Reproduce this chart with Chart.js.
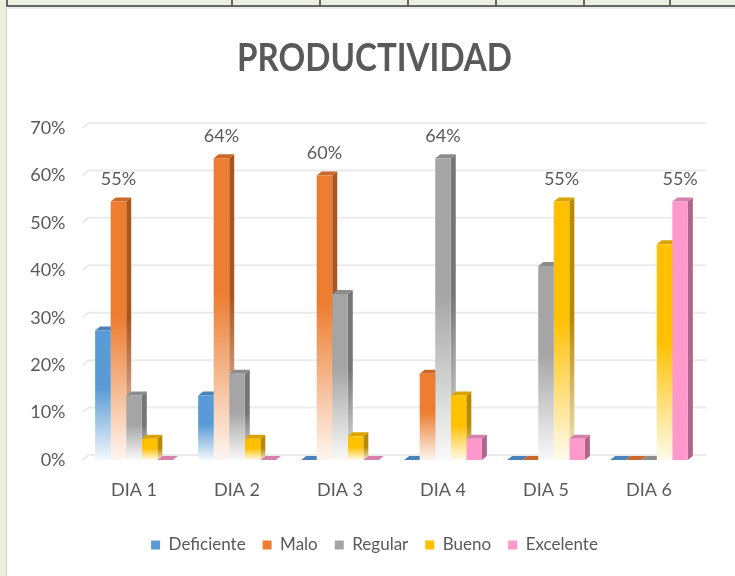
<!DOCTYPE html>
<html><head><meta charset="utf-8">
<script src="https://cdn.jsdelivr.net/npm/chart.js@4.4.1/dist/chart.umd.min.js"></script>
<style>
html,body{margin:0;padding:0;background:#fff;}
#wrap{position:relative;width:735px;height:576px;overflow:hidden;background:#fff;}
.g{position:absolute;background:#EBF1DE;}
.l{position:absolute;}
canvas{position:absolute;left:0;top:0;}
</style></head><body>
<div id="wrap">
<div class="g" style="left:0;top:0;width:735px;height:6px"></div>
<div class="g" style="left:0;top:0;width:6px;height:576px"></div>
<div class="l" style="left:6px;top:8px;width:1px;height:568px;background:#d4d4d4"></div>
<div class="l" style="left:6px;top:5px;width:729px;height:2px;background:#666"></div>
<div class="l" style="left:6px;top:0;width:2px;height:7px;background:#666"></div>
<div class="l" style="left:8px;top:7px;width:727px;height:2px;background:#e9e9e9"></div>
<div class="l" style="left:231px;top:0;width:2px;height:6px;background:#666"></div>
<div class="l" style="left:319px;top:0;width:2px;height:6px;background:#666"></div>
<div class="l" style="left:407px;top:0;width:2px;height:6px;background:#666"></div>
<div class="l" style="left:495px;top:0;width:2px;height:6px;background:#666"></div>
<div class="l" style="left:583px;top:0;width:2px;height:6px;background:#666"></div>
<div class="l" style="left:669px;top:0;width:2px;height:6px;background:#666"></div>
<canvas id="c" width="735" height="576"></canvas>
</div>
<script>
// ---- data ----
const categories = ['DIA 1','DIA 2','DIA 3','DIA 4','DIA 5','DIA 6'];
const seriesNames = ['Deficiente','Malo','Regular','Bueno','Excelente'];
const deficiente = [27.3, 13.6, 0, 0, 0, 0];
const malo       = [54.5, 63.6, 60, 18.2, 0, 0];
const regular    = [13.6, 18.2, 35, 63.6, 40.9, 0];
const bueno      = [4.5, 4.5, 5, 13.6, 54.5, 45.5];
const excelente  = [0, 0, 0, 4.5, 4.5, 54.5];
const yTicks = [0, 10, 20, 30, 40, 50, 60, 70];
// [seriesIndex, categoryIndex] of the points carrying a value label
const labeledPoints = [[1,0],[1,1],[1,2],[2,3],[3,4],[4,5]];

// ---- styles ----
const FONT = "Lato, 'Open Sans', sans-serif";
const TXT = '#595959';
const TITLE_WIDTH = 275;
const frontColors = ['#5B9BD5','#ED7D31','#A5A5A5','#FFC000','#FF99CC'];
const sideColors  = ['#41719C','#A85520','#767676','#B88A00','#B0668C'];
const topColors   = ['#4A82B9','#C8692A','#8C8C8C','#D9A300','#D680AC'];
const fade = [true, true, true, true, false];
const D = {dx: 5, dy: -4};
const W = {dx: 6, dy: -5};

function mix(hex, t){
  const n = parseInt(hex.slice(1), 16);
  const r = (n >> 16) & 255, g = (n >> 8) & 255, b = n & 255;
  const m = c => Math.round(c + (255 - c) * t);
  return `rgb(${m(r)},${m(g)},${m(b)})`;
}
function vGrad(ctx, top, base, col, t){
  const g = ctx.createLinearGradient(0, top, 0, base);
  g.addColorStop(0, col); g.addColorStop(0.45, col); g.addColorStop(1, mix(col, t));
  return g;
}
function frontFill(c){
  const i = c.datasetIndex, col = frontColors[i];
  const ch = c.chart;
  if (c.type !== 'data' || !ch.chartArea || !fade[i]) return col;
  const y = ch.scales.y;
  const top = y.getPixelForValue(c.raw), base = y.getPixelForValue(0);
  if (base - top < 1) return col;
  return vGrad(ch.ctx, top, base, col, 0.93);
}

const seriesValues = [deficiente, malo, regular, bueno, excelente];
const datasets = seriesNames.map((name, i) => ({
  label: name,
  data: seriesValues[i],
  backgroundColor: frontFill,
  borderWidth: 0,
  barPercentage: 1,
  categoryPercentage: 0.755
}));

const wallPlugin = {
  id: 'wall',
  beforeDatasetsDraw(chart){
    const ctx = chart.ctx, y = chart.scales.y, a = chart.chartArea;
    ctx.save();
    ctx.strokeStyle = '#EBEBEB'; ctx.lineWidth = 2;
    yTicks.forEach(v => {
      const py = y.getPixelForValue(v);
      ctx.beginPath();
      ctx.moveTo(a.left, py);
      ctx.lineTo(a.left + W.dx, py + W.dy);
      ctx.lineTo(a.right + W.dx, py + W.dy);
      ctx.stroke();
    });
    // side and top faces of the bars (fronts are drawn by Chart.js afterwards)
    const base = y.getPixelForValue(0);
    chart.data.datasets.forEach((ds, i) => {
      const meta = chart.getDatasetMeta(i);
      meta.data.forEach(el => {
        const p = el.getProps(['x','y','width'], true);
        const x0 = p.x - p.width / 2, x1 = p.x + p.width / 2, top = p.y;
        if (base - top > 0.5) {
          ctx.fillStyle = fade[i] ? vGrad(ctx, top, base, sideColors[i], 0.8) : sideColors[i];
          ctx.beginPath();
          ctx.moveTo(x1, top); ctx.lineTo(x1 + D.dx, top + D.dy);
          ctx.lineTo(x1 + D.dx, base + D.dy); ctx.lineTo(x1, base);
          ctx.closePath(); ctx.fill();
        }
        ctx.fillStyle = topColors[i];
        ctx.beginPath();
        ctx.moveTo(x0, top); ctx.lineTo(x1, top);
        ctx.lineTo(x1 + D.dx, top + D.dy); ctx.lineTo(x0 + D.dx, top + D.dy);
        ctx.closePath(); ctx.fill();
      });
    });
    ctx.restore();
  }
};

const labelPlugin = {
  id: 'vlabels',
  afterDatasetsDraw(chart){
    const ctx = chart.ctx;
    ctx.save();
    ctx.font = `18px ${FONT}`;
    ctx.fillStyle = TXT; ctx.textAlign = 'center'; ctx.textBaseline = 'middle';
    labeledPoints.forEach(([s, c]) => {
      const el = chart.getDatasetMeta(s).data[c];
      const v = chart.data.datasets[s].data[c];
      ctx.fillText(Math.round(v) + '%', el.x, el.y - 22);
    });
    ctx.restore();
  }
};

const chart = new Chart(document.getElementById('c'), {
  type: 'bar',
  data: { labels: categories, datasets },
  plugins: [wallPlugin, labelPlugin],
  options: {
    responsive: false,
    animation: false,
    layout: { padding: { left: 28, right: 14, top: 9, bottom: 12.5 } },
    plugins: {
      title: {
        display: true, text: 'PRODUCTIVIDAD', color: TXT,
        font: { family: FONT, size: 39, weight: 'bold', lineHeight: 1 },
        padding: { top: 30, bottom: 50 }
      },
      legend: {
        position: 'bottom',
        labels: {
          boxWidth: 9, boxHeight: 9, padding: 17, color: TXT, font: { family: FONT, size: 17 },
          generateLabels(ch){
            return ch.data.datasets.map((ds, i) => ({
              text: ds.label, fillStyle: frontColors[i], strokeStyle: frontColors[i],
              lineWidth: 0, hidden: !ch.isDatasetVisible(i), datasetIndex: i, fontColor: TXT
            }));
          }
        }
      },
      tooltip: { enabled: false }
    },
    scales: {
      x: {
        grid: { display: false, drawTicks: false }, border: { display: false },
        ticks: { color: TXT, font: { family: FONT, size: 18 }, padding: 19 },
        afterFit(s){ s.height = 59.5; }
      },
      y: {
        min: 0, max: 70,
        grid: { display: false, drawTicks: false }, border: { display: false },
        ticks: { stepSize: 10, color: TXT, font: { family: FONT, size: 18 }, padding: 17,
                 callback: v => v + '%' },
        afterFit(s){ s.width = 54.5; }
      },
      y2: {
        type: 'linear', position: 'right', display: true,
        grid: { display: false, drawTicks: false }, border: { display: false },
        ticks: { display: false },
        afterFit(s){ s.width = 20.5; }
      }
    }
  }
});

// narrow the title horizontally to the reference's condensed letterforms
const tb = chart.titleBlock;
const origTitleDraw = tb.draw.bind(tb);
tb.draw = function(area){
  const ctx = this.ctx;
  ctx.save();
  ctx.font = `bold 39px ${FONT}`;
  const w = ctx.measureText('PRODUCTIVIDAD').width;
  ctx.restore();
  const k = Math.min(1, TITLE_WIDTH / w);
  const cx = (this.left + this.right) / 2;
  ctx.save();
  ctx.translate(cx, 0); ctx.scale(k, 1); ctx.translate(-cx, 0);
  origTitleDraw(area);
  ctx.restore();
};
chart.draw();
</script>
</body></html>
